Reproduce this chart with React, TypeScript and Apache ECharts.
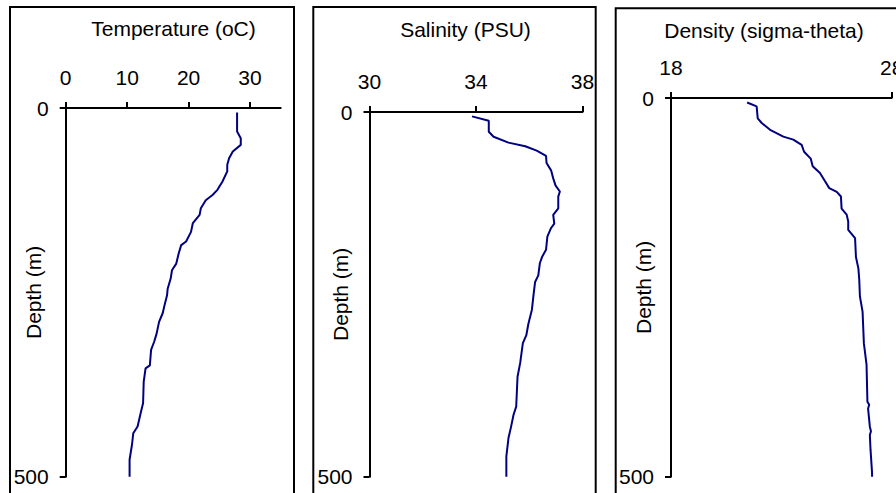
import React, { useEffect, useRef } from "react";
import * as echarts from "echarts";

// Depth profiles (m) and measured values for each panel
const tempDepth = [6, 32, 41, 50, 59, 68, 77, 86, 100, 111, 118, 125, 136, 145, 156, 168, 181, 186, 197, 211, 220, 231, 245, 254, 267, 278, 290, 306, 317, 328, 349, 353, 371, 400, 414, 432, 441, 456, 477, 500];
const tempValues = [27.9, 27.9, 28.5, 28.5, 27.2, 26.6, 26.3, 26.3, 25.5, 24.7, 23.9, 22.8, 22.0, 21.8, 20.7, 20.4, 19.6, 18.8, 18.4, 18.0, 17.3, 17.1, 16.6, 16.5, 16.1, 15.8, 15.2, 14.8, 14.4, 13.9, 13.7, 13.0, 12.7, 12.6, 12.2, 11.7, 11.0, 10.8, 10.4, 10.4];

const salDepth = [6, 12, 27, 34, 42, 47, 53, 60, 70, 80, 91, 101, 109, 116, 132, 141, 153, 159, 171, 189, 198, 207, 224, 233, 251, 271, 290, 306, 317, 344, 363, 404, 415, 431, 447, 472, 500];
const salValues = [33.85, 34.48, 34.48, 34.66, 35.22, 35.85, 36.28, 36.63, 36.65, 36.82, 36.9, 36.99, 37.15, 37.09, 37.09, 36.9, 36.94, 36.82, 36.68, 36.63, 36.49, 36.4, 36.34, 36.22, 36.16, 36.1, 35.97, 35.89, 35.76, 35.66, 35.56, 35.51, 35.41, 35.32, 35.22, 35.14, 35.14];

const densDepth = [6, 11, 27, 33, 42, 51, 55, 62, 71, 80, 90, 99, 110, 119, 124, 130, 146, 154, 163, 174, 185, 210, 225, 240, 262, 282, 324, 352, 401, 405, 410, 434, 440, 445, 464, 495, 500];
const densValues = [21.45, 21.88, 21.93, 22.11, 22.49, 23.09, 23.54, 23.92, 24.03, 24.33, 24.42, 24.75, 24.98, 25.17, 25.51, 25.7, 25.73, 25.96, 26.03, 26.03, 26.34, 26.38, 26.49, 26.53, 26.56, 26.68, 26.74, 26.86, 26.9, 26.98, 26.93, 27.01, 27.06, 27.01, 27.04, 27.11, 27.11];

// Axis ticks
const tempTicks = [0, 10, 20, 30];
const salTicks = [30, 34, 38];
const densTicks = [18, 28];
const depthTicks = [0, 500];

const panelTitles = ["Temperature (oC)", "Salinity (PSU)", "Density (sigma-theta)"];
const depthName = "Depth (m)";

const FONT = '"Liberation Sans", Arial, Helvetica, sans-serif';
const LINE_COLOR = "#000080";

export default function App() {
  const ref = useRef<HTMLDivElement>(null);

  useEffect(() => {
    if (!ref.current) return;
    const chart = echarts.init(ref.current, undefined, { renderer: "svg" });

    const grids = [
      { left: 65.7, top: 108, width: 215, height: 368.7 },
      { left: 369.5, top: 112, width: 213, height: 364.7 },
      { left: 671, top: 98, width: 220.7, height: 378.7 },
    ].map((g) => ({ ...g, containLabel: false, outerBoundsMode: "none" }));
    const ranges = [
      { min: 0, max: 35, ticks: tempTicks },
      { min: 30, max: 38, ticks: salTicks },
      { min: 18, max: 28, ticks: densTicks },
    ];
    const nameGaps = [22, 19, 17];

    const axisLine = { show: true, onZero: false, lineStyle: { color: "#000", width: 2 } };
    const axisTickBase = { show: true, length: 6, lineStyle: { color: "#000", width: 2 } };
    const labelBase = { color: "#000", fontSize: 21, fontFamily: FONT };

    const xAxis = ranges.map((r, i) => ({
      type: "value",
      gridIndex: i,
      position: "top",
      min: r.min,
      max: r.max,
      axisLine,
      axisTick: { ...axisTickBase, customValues: r.ticks },
      axisLabel: { ...labelBase, margin: 20, customValues: r.ticks },
      splitLine: { show: false },
    }));

    const yAxis = grids.map((_, i) => ({
      type: "value",
      gridIndex: i,
      inverse: true,
      min: 0,
      max: 500,
      axisLine,
      axisTick: { ...axisTickBase, customValues: depthTicks },
      axisLabel: { ...labelBase, margin: 17, customValues: depthTicks },
      splitLine: { show: false },
      name: depthName,
      nameLocation: "middle",
      nameGap: nameGaps[i],
      nameMoveOverlap: false,
      nameTextStyle: { ...labelBase },
    }));

    const profiles = [
      [tempDepth, tempValues],
      [salDepth, salValues],
      [densDepth, densValues],
    ];
    const series = profiles.map(([depth, vals], i) => ({
      type: "line",
      xAxisIndex: i,
      yAxisIndex: i,
      data: depth.map((d, k) => [vals[k], d]),
      symbol: "none",
      smooth: false,
      lineStyle: { color: LINE_COLOR, width: 2 },
    }));

    // panel frames and headings
    const frames = [
      { x: 10, y: 7, width: 284, height: 600 },
      { x: 313.3, y: 7, width: 282.4, height: 600 },
      { x: 615.7, y: 8.3, width: 400, height: 600 },
    ];
    const titlePos = [
      { x: 173.5, y: 28 },
      { x: 465.5, y: 29 },
      { x: 764, y: 30.5 },
    ];

    const graphic = [
      ...frames.map((f) => ({
        type: "rect",
        shape: f,
        style: { fill: "none", stroke: "#000", lineWidth: 2 },
        silent: true,
      })),
      ...titlePos.map((p, i) => ({
        type: "text",
        x: p.x,
        y: p.y,
        style: {
          text: panelTitles[i],
          fill: "#000",
          font: `21px ${FONT}`,
          align: "center",
          verticalAlign: "middle",
        },
        silent: true,
      })),
    ];

    chart.setOption({
      animation: false,
      backgroundColor: "#fff",
      grid: grids,
      xAxis,
      yAxis,
      series,
      graphic,
    });

    return () => chart.dispose();
  }, []);

  return (
    <div
      ref={ref}
      style={{ position: "fixed", left: 0, top: 0, width: 896, height: 493 }}
    />
  );
}
